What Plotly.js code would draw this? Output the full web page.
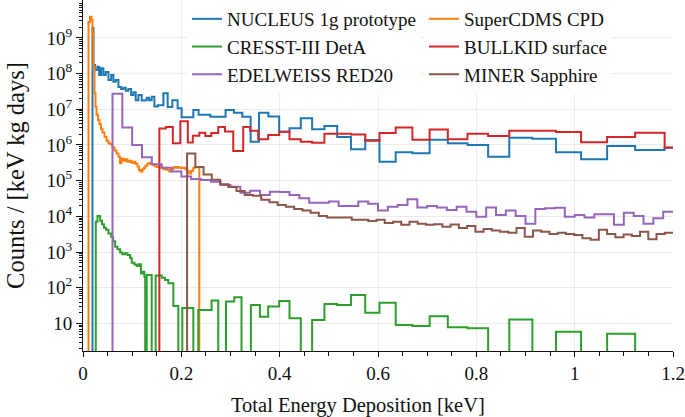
<!DOCTYPE html>
<html>
<head>
<meta charset="utf-8">
<script src="https://cdn.plot.ly/plotly-3.0.1.min.js"></script>
<style>html,body{margin:0;padding:0;background:#fff;}</style>
</head>
<body>
<div id="chart" style="width:685px;height:417px;"></div>
<script>
// ---------- data ----------
// bin edges in keV, counts in counts / [keV kg days]; 0 = empty bin
const nucleusEdges = [0.0193,0.0213,0.0248,0.0294,0.0329,0.0370,0.0416,0.0463,0.0518,0.0573,0.0619,0.0666,0.0721,0.0776,0.0822,0.0869,0.0924,0.0979,0.1025,0.1072,0.1127,0.1194,0.1249,0.1295,0.1344,0.1397,0.1452,0.1519,0.1635,0.1722,0.1817,0.1925,0.2006,0.2244,0.2351,0.2589,0.290,0.307,0.324,0.341,0.358,0.377,0.399,0.420,0.443,0.466,0.491,0.517,0.545,0.574,0.603,0.636,0.670,0.705,0.742,0.782,0.824,0.867,0.914,0.962,1.013,1.066,1.123,1.183,1.2];
const nucleusCounts = [1.9e9,1.75e8,1.25e8,1.55e8,9.1e7,1.4e8,9.1e7,1.1e8,6.6e7,9.1e7,5.9e7,6.6e7,4.2e7,3.7e7,4.0e7,3.3e7,3.7e7,2.5e7,3.0e7,1.8e7,2.5e7,1.75e7,1.8e7,2.1e7,1.8e7,2.25e7,1.2e7,1.3e7,2.8e7,1.15e7,1.8e7,1.07e7,6.0e6,9.5e6,7.0e6,6.2e6,9.5e6,8.0e6,6.2e6,1.23e6,8.0e6,6.3e6,2.35e6,2.95e6,5.6e6,2.75e6,3.4e6,1.66e6,7.6e5,1.38e6,3.4e5,6.3e5,5.9e5,1.4e6,1.12e6,1.0e6,4.7e5,1.6e6,1.5e6,6.3e5,4.0e5,9.3e5,7.2e5,8.3e5];

const supercdmsEdges = [0.0112,0.0142,0.0173,0.0193,0.0213,0.0234,0.0254,0.0274,0.0305,0.0335,0.0365,0.0396,0.0437,0.0477,0.0518,0.0558,0.0599,0.0640,0.0680,0.0721,0.0751,0.0782,0.0822,0.0863,0.0904,0.0944,0.0985,0.1025,0.1066,0.1107,0.1137,0.1168,0.1208,0.1239,0.1269,0.1310,0.1350,0.1391,0.1431,0.1472,0.1513,0.1553,0.1594,0.1635,0.1675,0.1716,0.1756,0.1797,0.1838,0.1878,0.1919,0.1959,0.2000,0.2041,0.2081,0.2122,0.2162,0.2203,0.2244,0.2284,0.2365];
const supercdmsCounts = [2.8e9,3.9e9,3.2e9,1.35e9,1.55e8,2.8e7,1.17e7,7.0e6,5.0e6,3.8e6,2.8e6,2.25e6,1.7e6,1.32e6,1.12e6,1.05e6,8.5e5,7.0e5,5.8e5,4.7e5,3.1e5,4.2e5,3.6e5,4.0e5,3.4e5,3.6e5,3.2e5,3.4e5,3.0e5,2.5e5,2.0e5,1.8e5,2.1e5,2.3e5,2.6e5,3.0e5,3.2e5,2.9e5,2.7e5,2.5e5,2.4e5,2.6e5,2.3e5,2.1e5,2.3e5,2.0e5,1.8e5,2.1e5,2.4e5,2.3e5,2.4e5,2.3e5,2.25e5,2.3e5,2.1e5,1.8e5,1.6e5,1.9e5,2.3e5,2.4e5];

const cresstEdges = [0.0260,0.0294,0.0349,0.0386,0.0426,0.0467,0.0518,0.0573,0.0613,0.0654,0.0701,0.0755,0.0802,0.0853,0.0904,0.0958,0.0991,0.1046,0.1092,0.1137,0.1178,0.1214,0.1249,0.1265,0.1295,0.1397,0.1478,0.1600,0.1669,0.1736,0.1838,0.1939,0.2020,0.2244,0.2345,0.2615,0.2751,0.2908,0.3076,0.3224,0.3415,0.3598,0.3766,0.399,0.420,0.443,0.466,0.491,0.517,0.545,0.574,0.603,0.636,0.670,0.705,0.742,0.782,0.824,0.867,0.914,0.962,1.013,1.066,1.123,1.2];
const cresstCounts = [7.1e3,1.02e4,7.6e3,6.0e3,4.8e3,4.2e3,3.3e3,2.7e3,2.0e3,1.4e3,1.2e3,980,870,930,830,680,500,450,410,460,250,280,200,0,230,0,220,190,166,135,31,0,27,0,24,44,0,41,54,0,33,15.5,30,43,14,0,12.6,35,33,63,20,38,9.1,8.5,16,7.8,7.4,0,13,0,5.9,0,5.2,0];

const bullkidEdges = [0.1553,0.1685,0.1827,0.1980,0.2132,0.2234,0.2365,0.2487,0.2609,0.2751,0.2887,0.3056,0.3259,0.3401,0.3563,0.3766,0.399,0.420,0.443,0.466,0.491,0.517,0.545,0.574,0.603,0.636,0.670,0.705,0.742,0.782,0.824,0.867,0.914,0.962,1.013,1.066,1.123,1.183,1.2];
const bullkidCounts = [2.9e6,3.2e6,1.12e6,4.6e6,1.17e6,1.8e6,2.2e6,1.78e6,2.15e6,3.2e6,2.4e6,6.8e5,3.2e6,2.5e6,1.45e6,1.9e6,2.35e6,1.45e6,1.23e6,1.15e6,2.05e6,2.05e6,1.95e6,1.32e6,2.15e6,3.1e6,1.4e6,2.7e6,1.45e6,2.05e6,1.78e6,2.5e6,2.5e6,2.3e6,1.2e6,1.66e6,2.2e6,8.5e5];

const edelweissEdges = [0.06,0.08,0.10,0.12,0.14,0.16,0.18,0.20,0.22,0.24,0.26,0.28,0.30,0.32,0.34,0.36,0.38,0.40,0.42,0.44,0.46,0.48,0.50,0.52,0.54,0.56,0.58,0.60,0.62,0.64,0.66,0.68,0.70,0.72,0.74,0.76,0.78,0.80,0.82,0.84,0.86,0.88,0.90,0.92,0.94,0.96,0.98,1.00,1.02,1.04,1.06,1.08,1.10,1.12,1.14,1.16,1.18,1.20];
const edelweissCounts = [2.7e7,3.1e6,1.0e6,4.5e5,2.9e5,2.3e5,1.8e5,1.3e5,1.12e5,1.05e5,9.3e4,7.6e4,6.8e4,4.6e4,5.2e4,4.0e4,4.9e4,4.8e4,4.0e4,3.2e4,2.4e4,2.4e4,2.6e4,1.95e4,1.95e4,2.6e4,2.25e4,1.45e4,1.86e4,2.1e4,3.0e4,1.78e4,1.95e4,1.78e4,1.5e4,1.86e4,1.35e4,9.8e3,1.78e4,1.1e4,1.45e4,1.02e4,6.2e3,1.6e4,1.7e4,1.74e4,9.8e3,1.1e4,9.3e3,1.15e4,1.15e4,5.8e3,1.26e4,1.02e4,6.2e3,8.9e3,1.35e4];

const minerEdges = [0.2117,0.2285,0.2452,0.2620,0.2787,0.2955,0.3122,0.3290,0.3457,0.3625,0.3792,0.3960,0.4127,0.4295,0.4462,0.4630,0.4797,0.4965,0.5132,0.5300,0.5467,0.5635,0.5802,0.5970,0.6137,0.6305,0.6472,0.6640,0.6807,0.6975,0.7142,0.7310,0.7477,0.7645,0.7812,0.7980,0.8147,0.8315,0.8482,0.8650,0.8817,0.8985,0.9152,0.9320,0.9487,0.9655,0.9822,0.9990,1.0157,1.0325,1.0492,1.0660,1.0827,1.0995,1.1162,1.1330,1.1497,1.1665,1.1832,1.2];
const minerCounts = [5.8e5,2.4e5,1.5e5,1.07e5,8.0e4,6.6e4,5.1e4,4.0e4,3.8e4,2.9e4,2.5e4,2.1e4,1.86e4,1.6e4,1.45e4,1.26e4,1.02e4,9.3e3,9.3e3,9.3e3,8.0e3,8.0e3,7.4e3,8.0e3,6.5e3,7.1e3,5.8e3,7.1e3,6.2e3,5.8e3,6.0e3,5.1e3,5.9e3,4.7e3,5.4e3,3.7e3,4.4e3,4.0e3,3.7e3,3.5e3,4.7e3,2.7e3,4.0e3,3.7e3,3.2e3,3.5e3,3.2e3,3.0e3,2.45e3,2.2e3,4.2e3,3.2e3,2.6e3,3.1e3,2.8e3,3.7e3,2.3e3,3.2e3,3.5e3];

const seriesNames = ['NUCLEUS 1g prototype','SuperCDMS CPD','CRESST-III DetA','BULLKID surface','EDELWEISS RED20','MINER Sapphire'];
const seriesColors = ['#1f77b4','#ff7f0e','#2ca02c','#d62728','#9467bd','#8c564b'];

const yTickVals = [10,100,1e3,1e4,1e5,1e6,1e7,1e8,1e9];
const yTickText = ['10','10<sup>2</sup>','10<sup>3</sup>','10<sup>4</sup>','10<sup>5</sup>','10<sup>6</sup>','10<sup>7</sup>','10<sup>8</sup>','10<sup>9</sup>'];
const xTickVals = [0,0.2,0.4,0.6,0.8,1,1.2];
const xTickText = ['0','0.2','0.4','0.6','0.8','1','1.2'];

// ---------- build step outlines ----------
const FLOOR = 1e-3; // empty bins fall below the visible range
function stepTrace(name, color, edges, counts, dropAtEnd, legendId) {
  const x = [edges[0]], y = [FLOOR];
  for (let i = 0; i < counts.length; i++) {
    x.push(edges[i]);
    y.push(counts[i] > 0 ? counts[i] : FLOOR);
  }
  const n = counts.length;
  x.push(edges[n]);
  y.push(counts[n - 1] > 0 ? counts[n - 1] : FLOOR);
  if (dropAtEnd) { x.push(edges[n]); y.push(FLOOR); }
  return {type:'scatter', mode:'lines', name:name, x:x, y:y, legend:legendId,
          line:{color:color, width:2, shape:'hv'}, hoverinfo:'skip'};
}

const traces = [
  stepTrace(seriesNames[0], seriesColors[0], nucleusEdges, nucleusCounts, false, 'legend'),
  stepTrace(seriesNames[1], seriesColors[1], supercdmsEdges, supercdmsCounts, true, 'legend2'),
  stepTrace(seriesNames[2], seriesColors[2], cresstEdges, cresstCounts, false, 'legend'),
  stepTrace(seriesNames[3], seriesColors[3], bullkidEdges, bullkidCounts, false, 'legend2'),
  stepTrace(seriesNames[4], seriesColors[4], edelweissEdges, edelweissCounts, false, 'legend'),
  stepTrace(seriesNames[5], seriesColors[5], minerEdges, minerCounts, false, 'legend2')
];

const minorY = [];
for (let d = 0; d <= 9; d++) for (let m = 2; m <= 9; m++) minorY.push(m * Math.pow(10, d));

const FONT = 'Liberation Serif, Times New Roman, serif';
const legendStyle = {
  orientation:'v', y:1, yanchor:'top', xanchor:'left', bgcolor:'#ffffff',
  borderwidth:0, font:{family:FONT, size:19, color:'#111'}, traceorder:'normal'
};
const layout = {
  width:685, height:417,
  margin:{l:83, r:12, t:0, b:66},
  paper_bgcolor:'#ffffff', plot_bgcolor:'#ffffff',
  font:{family:FONT, color:'#111', size:18},
  showlegend:true,
  xaxis:{
    range:[0,1.2], tickmode:'array', tickvals:xTickVals, ticktext:xTickText,
    showgrid:true, gridcolor:'#ebebeb', gridwidth:1, zeroline:false,
    showline:true, linecolor:'#111', linewidth:1,
    ticks:'outside', ticklen:5, tickcolor:'#111', tickfont:{family:FONT, size:19},
    minor:{dtick:0.05, tick0:0, ticks:'outside', ticklen:4, tickcolor:'#111', showgrid:false},
    automargin:false
  },
  yaxis:{
    type:'log', range:[0.23,10.06], tickmode:'array', tickvals:yTickVals, ticktext:yTickText,
    showgrid:true, gridcolor:'#ebebeb', gridwidth:1, zeroline:false,
    showline:true, linecolor:'#111', linewidth:1,
    ticks:'outside', ticklen:6, tickcolor:'#111', tickfont:{family:FONT, size:19},
    minor:{tickmode:'array', tickvals:minorY, ticks:'outside', ticklen:3, tickcolor:'#111', showgrid:false},
    title:{text:'Counts / [keV kg days]', font:{family:FONT, size:24.5}, standoff:14},
    automargin:false
  },
  annotations:[{
    text:'Total Energy Deposition [keV]', xref:'paper', yref:'paper',
    x:0.4653, y:-0.154, xanchor:'center', yanchor:'middle', showarrow:false,
    font:{family:FONT, size:20.5, color:'#111'}
  }],
  legend:Object.assign({}, legendStyle, {x:0.1763}),
  legend2:Object.assign({}, legendStyle, {x:0.578})
};

Plotly.newPlot('chart', traces, layout, {displayModeBar:false, staticPlot:true});
</script>
</body>
</html>
